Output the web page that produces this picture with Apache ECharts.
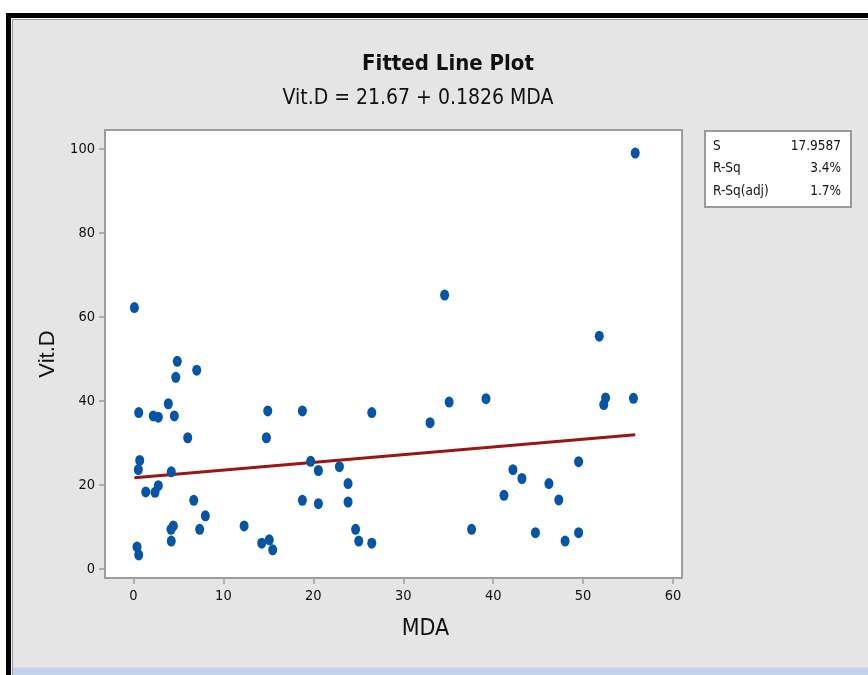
<!DOCTYPE html>
<html>
<head>
<meta charset="utf-8">
<script src="https://cdn.jsdelivr.net/npm/echarts@6/dist/echarts.min.js"></script>
<style>
  html, body { margin: 0; padding: 0; background: #ffffff; width: 868px; height: 675px; overflow: hidden; }
  #f1 { position: absolute; left: 6px; top: 13px; width: 900px; height: 700px; background: #000; }
  #f2 { position: absolute; left: 11px; top: 18px; width: 900px; height: 700px; background: #f4f4f4; }
  #f3 { position: absolute; left: 12px; top: 19px; width: 900px; height: 700px; background: #e5e5e5; border-left: 1px solid #9a9a9a; border-top: 1px solid #9a9a9a; box-sizing: border-box; }
  #band { position: absolute; left: 13px; top: 667px; width: 900px; height: 8px; background: #c3d3ec; border-top: 1px solid #d6dde8; }
  #chart { position: absolute; left: 0; top: 0; width: 868px; height: 675px; }
</style>
</head>
<body>
<div id="f1"></div><div id="f2"></div><div id="f3"></div><div id="band"></div>
<div id="chart"></div>
<script>
// ---- data ----
const mda = [0.1, 4.87, 4.7, 7.03, 3.87, 0.58, 2.2, 2.76, 4.54, 6.03, 14.93, 18.78, 14.78,
  0.69, 0.54, 4.2, 1.36, 2.39, 2.76, 6.7, 7.99, 4.43, 4.17, 7.36, 4.2, 12.3, 14.26, 15.1, 15.48,
  0.39, 0.58, 19.7, 20.56, 18.78, 20.56, 34.6, 26.5, 32.98, 35.1, 39.2, 22.9, 23.86, 23.86,
  24.7, 25.05, 26.5, 37.6, 55.8, 51.8, 52.5, 52.3, 55.6, 49.5, 42.2, 43.2, 46.2, 41.2, 47.3,
  44.7, 49.5, 48.0];
const vitD = [62.2, 49.4, 45.6, 47.3, 39.3, 37.2, 36.4, 36.1, 36.4, 31.2, 37.6, 37.6, 31.2,
  25.8, 23.6, 23.1, 18.3, 18.2, 19.8, 16.3, 12.6, 10.2, 9.4, 9.4, 6.6, 10.2, 6.1, 6.9, 4.5,
  5.2, 3.3, 25.6, 23.4, 16.3, 15.5, 65.2, 37.2, 34.8, 39.7, 40.5, 24.3, 20.3, 15.9,
  9.4, 6.6, 6.1, 9.4, 99.0, 55.4, 40.7, 39.1, 40.6, 25.5, 23.6, 21.5, 20.3, 17.5, 16.4,
  8.6, 8.6, 6.6];
const fitX = [0.1, 55.8];
const fitY = [21.7, 31.9];
const xTicks = [0, 10, 20, 30, 40, 50, 60];
const yTicks = [0, 20, 40, 60, 80, 100];
const titleText = 'Fitted Line Plot';
const subtitleText = 'Vit.D = 21.67 + 0.1826 MDA';
const xName = 'MDA';
const yName = 'Vit.D';
const statLabels = ['S', 'R-Sq', 'R-Sq(adj)'];
const statValues = ['17.9587', '3.4%', '1.7%'];

// ---- chart ----
const NARROW = "'Liberation Sans Narrow', 'DejaVu Sans Condensed', 'Liberation Sans', sans-serif";
const chart = echarts.init(document.getElementById('chart'), null, { renderer: 'canvas' });

const points = mda.map((x, i) => [x, vitD[i]]);
const fitLine = fitX.map((x, i) => [x, fitY[i]]);

const statGraphics = [];
statGraphics.push({
  type: 'rect', left: 704, top: 130,
  shape: { width: 146, height: 76 },
  style: { fill: '#ffffff', stroke: '#9a9a9a', lineWidth: 2 }
});
statLabels.forEach((lab, i) => {
  statGraphics.push({
    type: 'text', x: 713, y: 146 + i * 22.5,
    style: { text: lab, font: "13.5px " + NARROW, fill: '#111', textVerticalAlign: 'middle', textAlign: 'left' }
  });
  statGraphics.push({
    type: 'text', x: 841, y: 146 + i * 22.5,
    style: { text: statValues[i], font: "13.5px " + NARROW, fill: '#111', textVerticalAlign: 'middle', textAlign: 'right' }
  });
});

chart.setOption({
  animation: false,
  backgroundColor: 'transparent',
  grid: {
    left: 105, top: 130, width: 577, height: 448,
    show: true, backgroundColor: '#ffffff', borderColor: '#9d9d9d', borderWidth: 2
  },
  title: [
    {
      text: titleText,
      left: 443, top: 48, textAlign: 'center',
      textStyle: { fontFamily: NARROW, fontWeight: 'bold', fontSize: 22, color: '#111' }
    },
    {
      text: subtitleText,
      left: 413, top: 83, textAlign: 'center',
      textStyle: { fontFamily: NARROW, fontWeight: 'normal', fontSize: 21, color: '#111' }
    }
  ],
  xAxis: {
    type: 'value', min: -3.17, max: 61.0,
    name: xName, nameLocation: 'middle', nameGap: 40,
    nameTextStyle: { fontFamily: NARROW, fontSize: 23, color: '#111', padding: [0, 0, 0, 64] },
    axisLine: { show: false, onZero: false },
    splitLine: { show: false },
    axisTick: { show: true, inside: false, length: 6, customValues: xTicks, lineStyle: { color: '#9d9d9d', width: 1.5 } },
    axisLabel: { customValues: xTicks, margin: 11, fontFamily: NARROW, fontSize: 14.5, color: '#111' }
  },
  yAxis: {
    type: 'value', min: -2.2, max: 104.5,
    name: yName, nameLocation: 'middle', nameGap: 38, nameRotate: 90,
    nameTextStyle: { fontFamily: "'Liberation Sans', Arial, sans-serif", fontSize: 22, color: '#111' },
    axisLine: { show: false, onZero: false },
    splitLine: { show: false },
    axisTick: { show: true, inside: false, length: 6, customValues: yTicks, lineStyle: { color: '#9d9d9d', width: 1.5 } },
    axisLabel: { customValues: yTicks, margin: 10, fontFamily: NARROW, fontSize: 14.5, color: '#111' }
  },
  series: [
    {
      type: 'line', data: fitLine, symbol: 'none', z: 2,
      lineStyle: { color: '#9c1515', width: 3 }
    },
    {
      type: 'scatter', data: points, symbol: 'circle', symbolSize: [9, 11], z: 3,
      itemStyle: { color: '#0555a6', opacity: 1 }
    }
  ],
  graphic: statGraphics
});
</script>
</body>
</html>
